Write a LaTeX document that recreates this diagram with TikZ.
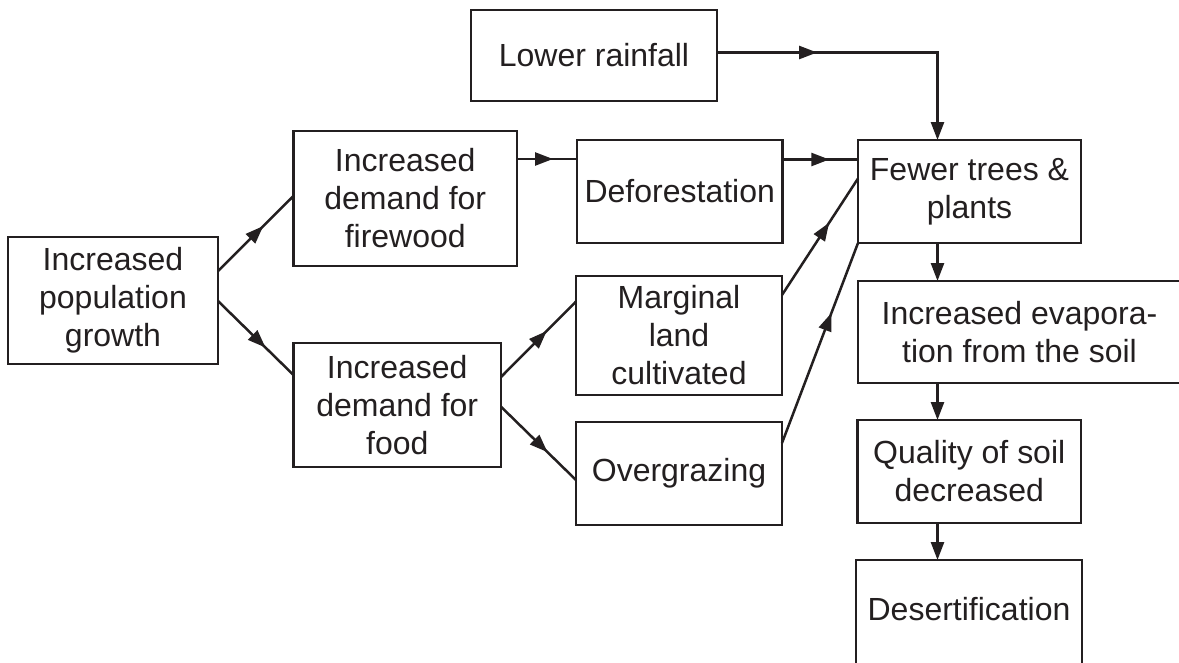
\documentclass[tikz,border=0pt]{standalone}
\usepackage{fontspec}
\setmainfont{Liberation Sans}
\usetikzlibrary{arrows.meta,calc,decorations.markings}
\definecolor{ink}{RGB}{35,31,32}
\begin{document}
\begin{tikzpicture}[x=1pt,y=-1pt,
  box/.style={draw=ink,line width=2.5pt,rectangle,inner sep=0pt,outer sep=0pt,align=center,
    font=\fontsize{32}{38}\selectfont,text=ink},
  link/.style={draw=ink,line width=2.5pt},
  midarrow/.style={postaction={decorate},decoration={markings,
    mark=at position #1 with {\arrow{Triangle[length=18pt,width=13pt]}}}},
  endarrow/.style={-{Triangle[length=18pt,width=13pt]}}
]
\useasboundingbox (0,0) rectangle (1179,662);
\fill[white] (0,0) rectangle (1179,662);
\clip (0,0) rectangle (1179,662);

\node[box,minimum width=246,minimum height=91] (rain) at (594,55.5) {Lower rainfall};
\node[box,minimum width=210,minimum height=127] (pop) at (113,300.5) {Increased\\population\\growth};
\node[box,minimum width=223.5,minimum height=135] (fire) at (405.25,198.5) {Increased\\demand for\\firewood};
\node[box,minimum width=207.5,minimum height=124] (food) at (397.25,405) {Increased\\demand for\\food};
\node[box,minimum width=205.5,minimum height=103] (defo) at (679.75,191.5) {Deforestation};
\node[box,minimum width=206,minimum height=119] (marg) at (679,335.5) {Marginal\\land\\cultivated};
\node[box,minimum width=206,minimum height=103] (over) at (679,473.5) {Overgrazing};
\node[box,minimum width=223,minimum height=103] (fewer) at (969.5,191.5) {Fewer trees \&\\plants};
\node[box,minimum width=323,minimum height=102] (evap) at (1019.5,332) {Increased evapora-\\tion from the soil};
\node[box,minimum width=223.5,minimum height=103] (qual) at (969.25,471.5) {Quality of soil\\decreased};
\node[box,minimum width=226,minimum height=110,
  label={[font=\fontsize{32}{38}\selectfont,text=ink,yshift=5.5pt]center:Desertification}] (desert) at (969,615) {};

\coordinate (col) at (937.5,0);

% population branches
\draw[link,midarrow=0.6] ($(pop.east)+(0,-29.5)$) -- ($(fire.west)+(0,-2.5)$);
\draw[link,midarrow=0.63] ($(pop.east)+(0,0.5)$) -- ($(food.west)+(0,-30)$);
% firewood -> deforestation
\coordinate (f1) at ($(fire.east)+(0,-39.5)$);
\draw[link,midarrow=0.6] (f1) -- (defo.west |- f1);
% food branches
\draw[link,midarrow=0.61] ($(food.east)+(0,-28)$) -- ($(marg.west)+(0,-34)$);
\draw[link,midarrow=0.62] ($(food.east)+(0,1.7)$) -- ($(over.west)+(0,6.5)$);
% to fewer trees
\coordinate (d1) at ($(defo.east)+(0,-32)$);
\draw[link,midarrow=0.62] (d1) -- (fewer.west |- d1);
\draw[link,midarrow=0.62] ($(marg.east)+(0,-40.5)$) -- ($(fewer.west)+(0,-13)$);
\draw[link,midarrow=0.65] ($(over.east)+(0,-30.5)$) -- (fewer.south west);
% rainfall
\draw[link,endarrow,midarrow=0.325] ($(rain.east)+(0,-3)$) -| (fewer.north -| col);
% vertical chain
\draw[link,endarrow] (fewer.south -| col) -- (evap.north -| col);
\draw[link,endarrow] (evap.south -| col) -- (qual.north -| col);
\draw[link,endarrow] (qual.south -| col) -- (desert.north -| col);
\end{tikzpicture}
\end{document}
